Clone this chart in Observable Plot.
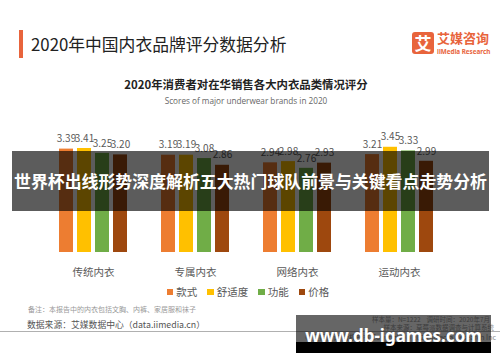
<!DOCTYPE html>
<html>
<head>
<meta charset="utf-8">
<script src="https://cdn.jsdelivr.net/npm/d3@7"></script>
<script src="https://cdn.jsdelivr.net/npm/@observablehq/plot@0.6"></script>
<style>
  html, body { margin: 0; padding: 0; background: #fff; }
  #page { position: relative; width: 500px; height: 362px; overflow: hidden; background: #fff;
          font-family: "Noto Sans CJK SC", "Noto Sans", sans-serif; }
  .abs { position: absolute; white-space: nowrap; }
  #chart { position: absolute; left: 0; top: 110px; }
</style>
</head>
<body>
<div id="page">
  <div class="abs" style="left:19px;top:30px;width:4px;height:28px;background:#E8643C;"></div>
  <div class="abs" id="title" style="left:31px;top:32px;font-size:16.8px;line-height:24px;color:#222;">2020年中国内衣品牌评分数据分析</div>

  <div class="abs" style="left:412px;top:32px;width:22px;height:22px;background:#E8643C;border-radius:3px;color:#fff;font-weight:bold;font-size:17px;line-height:22px;text-align:center;">艾</div>
  <div class="abs" style="left:437px;top:30px;font-size:13px;line-height:16px;font-weight:bold;color:#E8643C;">艾媒咨询</div>
  <div class="abs" style="left:437px;top:47.5px;font-size:6.3px;line-height:8px;font-weight:bold;color:#E8643C;font-family:'Noto Sans',sans-serif;">iiMedia Research</div>

  <div class="abs" id="ctitle" style="left:0;width:492px;text-align:center;top:76px;font-size:11.4px;line-height:16px;font-weight:bold;color:#222;"></div>
  <div class="abs" id="csub" style="left:0;width:492px;text-align:center;top:95px;font-size:8.2px;line-height:12px;color:#666;font-family:'Open Sans','Noto Sans',sans-serif;"></div>

  <div id="chart"></div>

  <div class="abs" id="legend" style="left:0;width:496px;top:284px;text-align:center;font-size:10.5px;line-height:16px;color:#595959;"></div>

  <div class="abs" style="left:28px;top:304px;font-size:7px;line-height:10px;color:#9a9a9a;">备注：本报告中的内衣包括文胸、内裤、家居服和袜子</div>
  <div class="abs" style="left:27px;top:319px;font-size:8.8px;line-height:12px;color:#555;">数据来源：艾媒数据中心（data.iimedia.cn）</div>

  <div class="abs" style="right:10px;top:314.5px;font-size:6.5px;line-height:8px;color:#999;text-align:right;">样本量：N=1222&nbsp;&nbsp;&nbsp;&nbsp;调研时间：2020年7月</div>
  <div class="abs" style="right:6px;top:323.5px;font-size:6.5px;line-height:7px;color:#999;text-align:right;">样本来源：草莓派数据调查与计算系统</div>
  <div class="abs" style="left:0;top:330.5px;width:500px;height:1.5px;background:#b0b0b0;"></div>
  <div class="abs" style="right:4px;top:333px;font-size:7px;line-height:9px;color:#888;text-align:right;">© 艾媒咨询 版权所有 Copyright © 2020 iiMedia Research Inc</div>

  <!-- overlays -->
  <div class="abs" style="left:12px;top:151px;width:477px;height:60px;background:rgba(0,0,0,0.64);"></div>
  <div class="abs" id="banner" style="left:12px;top:169px;width:477px;text-align:center;font-size:16.9px;line-height:24px;font-weight:bold;color:#fff;"></div>
  <div class="abs" style="left:296px;top:315px;width:195px;height:27px;background:rgba(0,0,0,0.6);"></div>
  <div class="abs" style="left:296px;top:342px;width:195px;height:11px;background:#000;"></div>
  <div class="abs" id="wm" style="left:296px;top:324px;width:195px;text-align:center;font-family:'Noto Sans',sans-serif;font-size:17px;line-height:24px;font-weight:bold;color:#fff;"></div>
</div>
<script>
// ---- data ----
const categories = ["传统内衣", "专属内衣", "网络内衣", "运动内衣"];
const seriesNames = ["款式", "舒适度", "功能", "价格"];
const styleScores   = [3.39, 3.19, 2.94, 3.21]; // 款式
const comfortScores = [3.41, 3.19, 2.98, 3.45]; // 舒适度
const functionScores = [3.25, 3.08, 2.76, 3.33]; // 功能
const priceScores   = [3.20, 2.86, 2.93, 2.99]; // 价格
const seriesColors = ["#ED7D31", "#FFC000", "#70AD47", "#9E480E"];
const chartTitle = "2020年消费者对在华销售各大内衣品类情况评分";
const chartSubtitle = "Scores of major underwear brands in 2020";
const bannerText = "世界杯出线形势深度解析五大热门球队前景与关键看点走势分析";
const watermark = "www.db-igames.com";

document.getElementById("ctitle").textContent = chartTitle;
document.getElementById("csub").textContent = chartSubtitle;
document.getElementById("banner").textContent = bannerText;
document.getElementById("wm").textContent = watermark;

const allSeries = [styleScores, comfortScores, functionScores, priceScores];
const data = [];
categories.forEach((c, i) => {
  seriesNames.forEach((s, j) => {
    data.push({category: c, series: s, value: allSeries[j][i]});
  });
});

let baseline;
try {
  baseline = Plot.ruleY([0], {facet: "super", stroke: "#d9d9d9", strokeWidth: 1});
} catch (e) { baseline = null; }

const chart = Plot.plot({
  width: 500,
  height: 172,
  marginTop: 20,
  marginBottom: 30,
  marginLeft: 42,
  marginRight: 50,
  style: {fontFamily: "'Noto Sans CJK SC', sans-serif", fontSize: "10.5px", color: "#595959", background: "transparent"},
  fx: {domain: categories, paddingInner: 0.316, paddingOuter: 0.152, label: null, axis: "bottom", tickSize: 0, tickPadding: 16},
  x: {domain: seriesNames, paddingInner: 0.22, paddingOuter: 0, axis: null},
  y: {domain: [0, 4], axis: null},
  color: {domain: seriesNames, range: seriesColors},
  marks: [
    Plot.barY(data, {fx: "category", x: "series", y: "value", fill: "series"}),
    Plot.text(data, {fx: "category", x: "series", y: "value", text: d => d.value.toFixed(2), dy: -10, fill: "#595959", fontSize: 10}),
    baseline
  ].filter(Boolean)
});
document.getElementById("chart").appendChild(chart);

// legend built from the series arrays
const legend = document.getElementById("legend");
seriesNames.forEach((s, j) => {
  const item = document.createElement("span");
  item.style.display = "inline-block";
  item.style.margin = "0 5px";
  const sw = document.createElement("span");
  sw.style.cssText = `display:inline-block;width:6.5px;height:6.5px;background:${seriesColors[j]};margin-right:3px;vertical-align:1px;`;
  item.appendChild(sw);
  item.appendChild(document.createTextNode(s));
  legend.appendChild(item);
});
</script>
</body>
</html>
